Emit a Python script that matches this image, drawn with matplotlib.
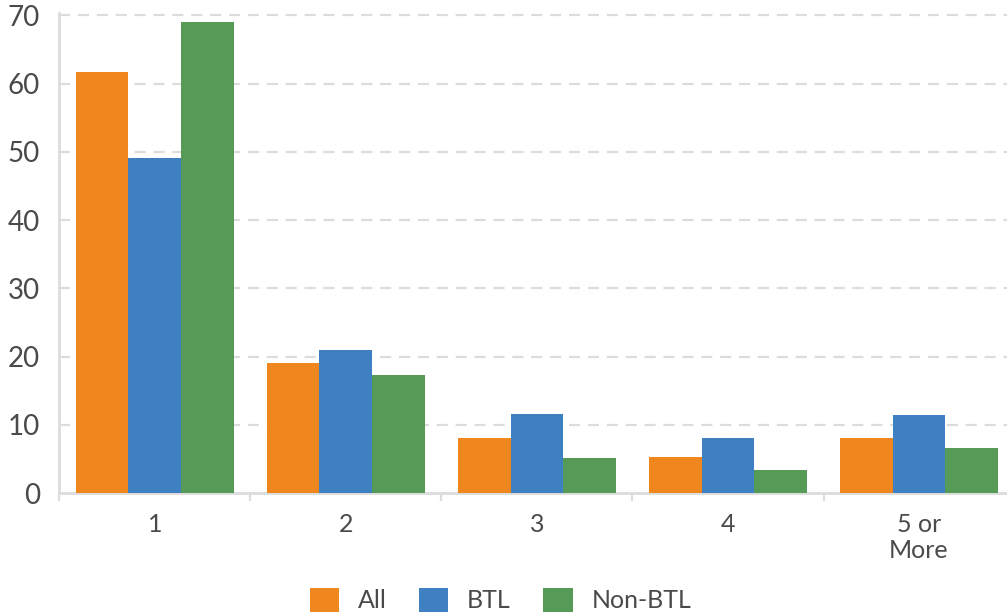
import matplotlib
matplotlib.use("Agg")
from matplotlib import pyplot as plt
import numpy as np

categories = ["1", "2", "3", "4", "5 or\nMore"]
series_names = ["All", "BTL", "Non-BTL"]
all_vals = [61.7, 19.1, 8.1, 5.3, 8.1]
btl_vals = [49.1, 21.0, 11.6, 8.1, 11.5]
non_btl_vals = [69.0, 17.3, 5.2, 3.4, 6.6]
y_ticks = [0, 10, 20, 30, 40, 50, 60, 70]

colors = ["#F0861E", "#3F80C2", "#559B57"]
text_color = "#4a4a4a"
axis_color = "#dcdcdc"

plt.rcParams['font.family'] = ['Lato', 'DejaVu Sans']

fig = plt.figure(figsize=(10.07, 6.14), dpi=100)
ax = fig.add_axes([0.059, 0.1966, 0.9485, 0.783])

x = np.arange(len(categories))
bar_w = 0.277
for i, (name, vals) in enumerate(zip(series_names, [all_vals, btl_vals, non_btl_vals])):
    ax.bar(x + (i - 1) * bar_w, vals, width=bar_w, color=colors[i], label=name, zorder=3)

ax.set_xlim(-0.5, len(categories) - 0.5)
ax.set_ylim(0, 70.4)

# y axis
ax.set_yticks(y_ticks)
ax.tick_params(axis='y', length=0, pad=14, labelsize=20, labelcolor=text_color)
for y in y_ticks[1:]:
    ax.axhline(y, color=axis_color, lw=1.6, dashes=(5, 3.5), zorder=1)

# x axis: boundary ticks, labels at centers
ax.set_xticks(np.arange(-0.5, len(categories) + 0.5, 1.0))
ax.set_xticklabels([])
ax.tick_params(axis='x', which='major', length=6, width=1.6, color=axis_color)
ax.set_xticks(x, minor=True)
ax.set_xticklabels(categories, minor=True, fontsize=18, color=text_color, linespacing=1.15)
ax.tick_params(axis='x', which='minor', length=0, pad=14)

for s in ["top", "right"]:
    ax.spines[s].set_visible(False)
for s in ["left", "bottom"]:
    ax.spines[s].set_color(axis_color)
    ax.spines[s].set_linewidth(2)

fig.legend(loc='center', bbox_to_anchor=(0.497, 0.023), ncol=3, frameon=False,
           fontsize=18, labelcolor=text_color, handlelength=1.17, handleheight=1.1,
           handletextpad=0.75, columnspacing=1.3)

fig.savefig("out.png", dpi=100)
